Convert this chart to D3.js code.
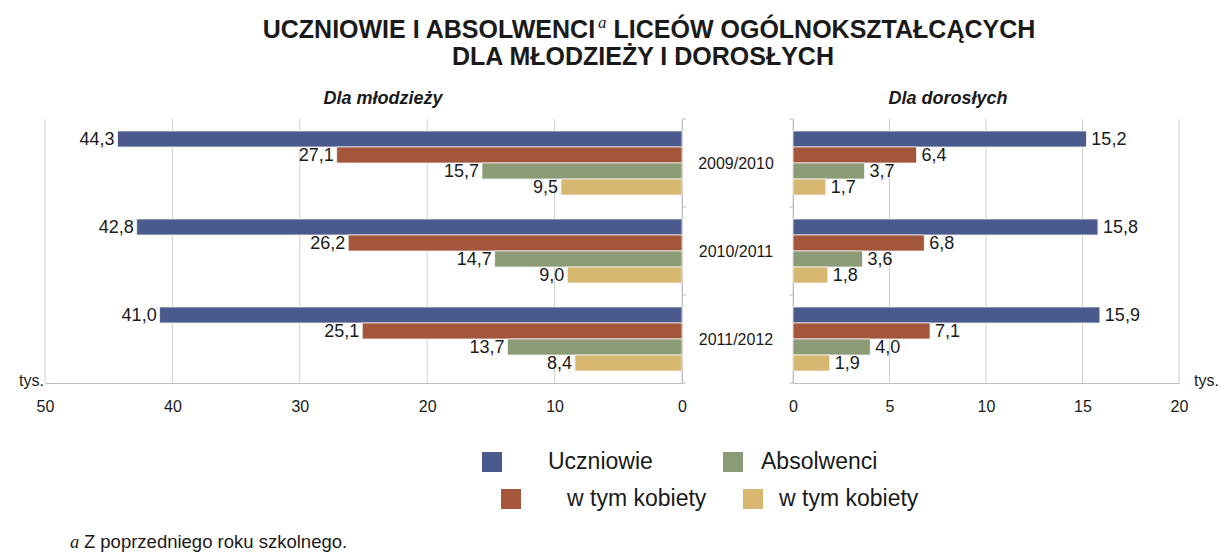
<!DOCTYPE html>
<html>
<head>
<meta charset="utf-8">
<script src="https://cdn.jsdelivr.net/npm/d3@7"></script>
<style>
  body { margin: 0; background: #fff; }
  text { font-family: "Liberation Sans", Arial, sans-serif; fill: #1a1a1a; }
</style>
</head>
<body>
<div id="chart"></div>
<script>
const years = ['2009/2010', '2010/2011', '2011/2012']
const series = ['uczniowie', 'uczniowieK', 'absolwenci', 'absolwenciK']
const seriesNames = ['Uczniowie', 'w tym kobiety', 'Absolwenci', 'w tym kobiety']
const colors = ['#4b5a8c', '#a3563a', '#8b9b76', '#d8b770']

// dla młodzieży
const mlUczniowie = [44.3, 42.8, 41.0]
const mlUczniowieK = [27.1, 26.2, 25.1]
const mlAbsolwenci = [15.7, 14.7, 13.7]
const mlAbsolwenciK = [9.5, 9.0, 8.4]

// dla dorosłych
const drUczniowie = [15.2, 15.8, 15.9]
const drUczniowieK = [6.4, 6.8, 7.1]
const drAbsolwenci = [3.7, 3.6, 4.0]
const drAbsolwenciK = [1.7, 1.8, 1.9]

const leftTicks = [50, 40, 30, 20, 10, 0]
const rightTicks = [0, 5, 10, 15, 20]

const build = (a, b, c, d) => years.map((y, i) => ({
  year: y,
  values: [a[i], b[i], c[i], d[i]].map((v, j) => ({ key: series[j], value: v }))
}))
const dataL = build(mlUczniowie, mlUczniowieK, mlAbsolwenci, mlAbsolwenciK)
const dataR = build(drUczniowie, drUczniowieK, drAbsolwenci, drAbsolwenciK)

const fmt = v => d3.format('.1f')(v).replace('.', ',')
const color = d3.scaleOrdinal().domain(series).range(colors)

const svg = d3.select('#chart').append('svg')
  .attr('width', 1221).attr('height', 553)

const plotTop = 119, plotBottom = 383
const yScale = d3.scaleBand().domain(years).range([plotTop, plotBottom])
const ySub = d3.scaleBand().domain(series).range([12, yScale.bandwidth() - 12])

const xL = d3.scaleLinear().domain([50, 0]).range([45, 682])
const xR = d3.scaleLinear().domain([0, 20]).range([793, 1179])

// title
const title = svg.append('text')
  .attr('x', 649).attr('y', 38)
  .attr('text-anchor', 'middle')
  .style('font-size', '25px').style('font-weight', 'bold')
title.append('tspan').text('UCZNIOWIE I ABSOLWENCI')
title.append('tspan').text('a')
  .style('font-family', '"Liberation Serif", serif')
  .style('font-style', 'italic').style('font-weight', 'normal')
  .style('font-size', '17px').attr('dy', -10).attr('dx', 3)
title.append('tspan').text(' LICEÓW OGÓLNOKSZTAŁCĄCYCH').attr('dy', 10)

svg.append('text')
  .attr('x', 643).attr('y', 65)
  .attr('text-anchor', 'middle')
  .style('font-size', '25px').style('font-weight', 'bold')
  .text('DLA MŁODZIEŻY I DOROSŁYCH')

svg.append('text').attr('x', 383).attr('y', 104).attr('text-anchor', 'middle')
  .style('font-size', '18px').style('font-weight', 'bold').style('font-style', 'italic')
  .text('Dla młodzieży')
svg.append('text').attr('x', 948).attr('y', 104).attr('text-anchor', 'middle')
  .style('font-size', '18px').style('font-weight', 'bold').style('font-style', 'italic')
  .text('Dla dorosłych')

function panel(data, x, ticks, side) {
  const g = svg.append('g')

  // grid
  g.selectAll('line.grid')
    .data(ticks)
    .enter().append('line')
      .attr('x1', d => x(d)).attr('x2', d => x(d))
      .attr('y1', plotTop).attr('y2', plotBottom)
      .style('stroke', '#cfcfcf').style('stroke-width', 1)

  // x axis
  const axis = d3.axisBottom(x).tickValues(ticks).tickSize(0).tickPadding(18)
  const ax = g.append('g')
    .attr('transform', `translate(0, ${plotBottom})`)
    .call(axis)
  ax.select('.domain').style('stroke', '#bdbdbd')
  ax.selectAll('text')
    .style('font-family', '"Liberation Sans", Arial, sans-serif')
    .style('font-size', '16px').style('fill', '#1a1a1a')

  // category axis
  const x0 = x(0)
  const yAxis = (side === 'left' ? d3.axisRight(yScale) : d3.axisLeft(yScale))
    .tickSize(0).tickFormat('')
  g.append('g').attr('transform', `translate(${x0}, 0)`).call(yAxis)
    .select('.domain').style('stroke', '#bdbdbd')
  g.selectAll('line.sep')
    .data([plotTop].concat(years.map(y => yScale(y) + yScale.bandwidth())))
    .enter().append('line')
      .attr('x1', x0).attr('x2', side === 'left' ? x0 + 4 : x0 - 4)
      .attr('y1', d => d).attr('y2', d => d)
      .style('stroke', '#bdbdbd')

  // bars
  const grp = g.selectAll('g.year')
    .data(data)
    .enter().append('g')
      .attr('transform', d => `translate(0, ${yScale(d.year)})`)

  grp.selectAll('rect')
    .data(d => d.values)
    .enter().append('rect')
      .attr('x', d => Math.min(x(0), x(d.value)))
      .attr('width', d => Math.abs(x(d.value) - x(0)))
      .attr('y', d => ySub(d.key))
      .attr('height', ySub.bandwidth())
      .style('fill', d => color(d.key))
      .style('stroke', '#f2f2f2').style('stroke-width', 0.8)

  grp.selectAll('text.val')
    .data(d => d.values)
    .enter().append('text')
      .attr('x', d => side === 'left' ? x(d.value) - 3 : x(d.value) + 5)
      .attr('y', d => ySub(d.key) + ySub.bandwidth() / 2 + 6)
      .attr('text-anchor', side === 'left' ? 'end' : 'start')
      .style('font-size', '18px')
      .text(d => fmt(d.value))
}

panel(dataL, xL, leftTicks, 'left')
panel(dataR, xR, rightTicks, 'right')

// year labels
svg.selectAll('text.year')
  .data(years)
  .enter().append('text')
    .attr('x', 736)
    .attr('y', d => yScale(d) + yScale.bandwidth() / 2 + 6)
    .attr('text-anchor', 'middle')
    .style('font-size', '16px')
    .text(d => d)

svg.append('text').attr('x', 19).attr('y', 386).style('font-size', '16px').text('tys.')
svg.append('text').attr('x', 1194).attr('y', 386).style('font-size', '16px').text('tys.')

// legend
const legendPos = [
  { sx: 482, sy: 452, tx: 548, ty: 469 },
  { sx: 501, sy: 489, tx: 567, ty: 506 },
  { sx: 723, sy: 452, tx: 761, ty: 469 },
  { sx: 743, sy: 489, tx: 779, ty: 506 }
]
const leg = svg.selectAll('g.legend')
  .data(series)
  .enter().append('g')
leg.append('rect')
  .attr('x', (d, i) => legendPos[i].sx).attr('y', (d, i) => legendPos[i].sy)
  .attr('width', 20).attr('height', 20)
  .style('fill', d => color(d))
leg.append('text')
  .attr('x', (d, i) => legendPos[i].tx).attr('y', (d, i) => legendPos[i].ty)
  .style('font-size', '23px')
  .text((d, i) => seriesNames[i])

// footnote
const fn = svg.append('text').attr('x', 70).attr('y', 548).style('font-size', '18.5px')
fn.append('tspan').text('a ')
  .style('font-family', '"Liberation Serif", serif').style('font-style', 'italic')
fn.append('tspan').text('Z poprzedniego roku szkolnego.')
</script>
</body>
</html>
